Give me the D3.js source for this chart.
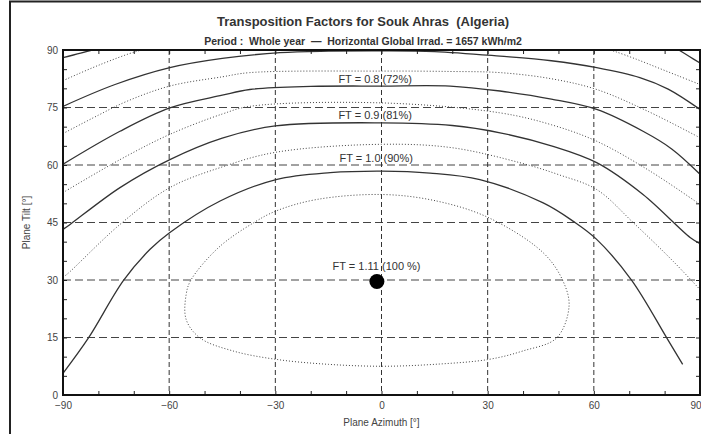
<!DOCTYPE html>
<html lang="en">
<head>
  <meta charset="UTF-8">
  <title>Transposition Factors for Souk Ahras</title>
  <script src="https://d3js.org/d3.v7.min.js"></script>
  <style>
    body { margin: 0; background: #fff; }
    svg { display: block; font-family: "Liberation Sans", Arial, sans-serif; }
    text { white-space: pre; }
  </style>
</head>
<body>
  <div id="chart"></div>

  <script>
    // iso-FT contour lines, as [azimuth, tilt] pairs
    const ft060Left = [[-90, 88.0], [-85, 89.2], [-80, 90.3]];
    const ft060Right = [[83.5, 90.3], [87, 88.3], [90, 86.6]];
    const ft065Left = [[-90, 82.0], [-80, 86.0], [-69, 89.7], [-65, 90.4]];
    const ft065Right = [[63, 90.4], [66, 89.6], [72, 87.6], [78, 85.4], [84, 83.2], [90, 81.0]];
    const ft070 = [[-90, 75.3], [-75.3, 81], [-59.8, 85.4], [-45, 87.8], [-28.7, 89.3], [-15, 89.7], [0, 89.8],
      [15, 89.6], [33.5, 88.4], [48, 87.2], [60.8, 85.4], [73, 82.8], [81, 79.8], [90, 74.5]];
    const ft075 = [[-90, 68.2], [-80, 73.0], [-72, 76.6], [-59.8, 80.6], [-45, 83.0], [-37.2, 84.1], [0, 84.5],
      [19.4, 84.4], [33.5, 84.1], [48, 82.5], [60.8, 79.7], [75.3, 74.0], [90, 67.1]];
    const ft080 = [[-90, 60.2], [-73.9, 68.8], [-59.8, 74.9], [-45, 78.2], [-37.2, 79.7], [-20, 80.5], [0, 80.6],
      [19.4, 80.6], [33.5, 79.3], [48, 77.2], [60.8, 74.5], [73.9, 68.8], [82, 64.2], [90, 57.6]];
    const ft085 = [[-90, 52.8], [-73.9, 61.4], [-59.8, 68.0], [-45, 73.3], [-37.2, 75.3], [0, 76.2], [33.5, 73.6],
      [48, 70.5], [60.8, 66.2], [75.9, 58.4], [90, 49.7]];
    const ft090 = [[-90, 43.2], [-88, 44.5], [-73.9, 54.1], [-59.8, 61.4], [-45, 67.0], [-30, 70.2], [0, 71.0],
      [20, 70.3], [33.5, 68.4], [48, 65.0], [60.8, 60.6], [73.9, 52.3], [87.2, 41.1], [90, 39.5]];
    const ft095 = [[-90, 30.8], [-89, 31.4], [-73.9, 44.5], [-59.8, 54.1], [-45, 59.5], [-30, 63.3], [0, 65.4],
      [20, 64.5], [39.1, 60.6], [50, 57.5], [60.8, 53.6], [71.1, 45.0], [82.4, 34.9], [90, 27.5]];
    const ft100 = [[-89.9, 5.8], [-82.8, 14.9], [-72.9, 29.9], [-65.4, 38.0], [-59.8, 42.4], [-45.6, 50.6],
      [-29.8, 56.2], [-14.5, 58.0], [0.1, 58.4], [13.7, 57.9], [27.8, 56.2], [45.7, 50.1], [54.2, 45.3],
      [60.8, 40.6], [70.7, 29.9], [80.6, 14.9], [85.1, 8.0]];
    const ft105 = [[0.3, 52.3], [15.6, 50.6], [30.4, 46.2], [45.7, 37.1], [51.2, 29.9], [53.0, 23.2], [49.5, 14.9],
      [40, 11.5], [30.4, 9.3], [15, 8.0], [0.3, 7.5], [-15, 8.0], [-29.8, 9.3], [-42, 11.5], [-51.3, 14.9],
      [-55.2, 19.7], [-55.2, 26.2], [-53.9, 29.9], [-46, 38.5], [-36.2, 44.9], [-29.8, 48.0], [-18.3, 51.0]];

    // optimum
    const optAz = -1.3;
    const optTilt = 29.6;

    // contour labels (anchor = text centre / baseline, in azimuth / tilt)
    const labelText = ["FT = 0.8 (72%)", "FT = 0.9 (81%)", "FT = 1.0 (90%)", "FT = 1.11 (100 %)"];
    const labelAz = [-1.8, -1.8, -1.5, -1.4];
    const labelTilt = [81.5, 72.0, 60.8, 32.5];

    const xTicks = [-90, -60, -30, 0, 30, 60, 90];
    const yTicks = [0, 15, 30, 45, 60, 75, 90];
    const xMinor = d3.range(-90, 91, 10);
    const yMinor = d3.range(0, 91, 5);

    const svg_width = 701;
    const svg_height = 434;
    const plot_left = 63, plot_right = 700, plot_top = 50, plot_bottom = 395;

    const svg = d3.select("#chart")
      .append("svg")
      .attr("width", svg_width)
      .attr("height", svg_height);

    const x = d3.scaleLinear().domain([-90, 90]).range([plot_left, plot_right]);
    const y = d3.scaleLinear().domain([0, 90]).range([plot_bottom, plot_top]);

    // outer frame (only top and left edge visible)
    svg.append("path")
      .attr("d", `M10,${svg_height} V1.5 H${svg_width}`)
      .attr("fill", "none")
      .attr("stroke", "#222")
      .attr("stroke-width", 2);

    // titles
    svg.append("text")
      .attr("x", 363)
      .attr("y", 26)
      .attr("text-anchor", "middle")
      .attr("font-size", 13)
      .attr("font-weight", "bold")
      .attr("fill", "#333")
      .text("Transposition Factors for Souk Ahras  (Algeria)");

    svg.append("text")
      .attr("x", 363)
      .attr("y", 45)
      .attr("text-anchor", "middle")
      .attr("font-size", 10.5)
      .attr("font-weight", "bold")
      .attr("fill", "#333")
      .text("Period :  Whole year  \u2014  Horizontal Global Irrad. = 1657 kWh/m2");

    svg.append("clipPath").attr("id", "plot-clip")
      .append("rect")
      .attr("x", plot_left).attr("y", plot_top)
      .attr("width", plot_right - plot_left).attr("height", plot_bottom - plot_top);

    // grid
    svg.append("g")
      .selectAll("line")
      .data(yTicks.slice(1, -1))
      .enter()
      .append("line")
      .attr("x1", plot_left).attr("x2", plot_right)
      .attr("y1", d => y(d)).attr("y2", d => y(d))
      .attr("stroke", "#444")
      .attr("stroke-dasharray", "8,4");

    svg.append("g")
      .selectAll("line")
      .data(xTicks.slice(1, -1))
      .enter()
      .append("line")
      .attr("x1", d => x(d)).attr("x2", d => x(d))
      .attr("y1", plot_top).attr("y2", plot_bottom)
      .attr("stroke", "#333")
      .attr("stroke-dasharray", "5,3");

    // contours
    const line = d3.line()
      .x(d => x(d[0]))
      .y(d => y(d[1]))
      .curve(d3.curveCatmullRom.alpha(0.5));

    const closedLine = d3.line()
      .x(d => x(d[0]))
      .y(d => y(d[1]))
      .curve(d3.curveCatmullRomClosed.alpha(0.5));

    const solid = [ft060Left, ft060Right, ft070, ft080, ft090, ft100];
    const dotted = [ft065Left, ft065Right, ft075, ft085, ft095];

    const plot = svg.append("g").attr("clip-path", "url(#plot-clip)");

    plot.selectAll("path.solid")
      .data(solid)
      .enter()
      .append("path")
      .attr("class", "solid")
      .attr("d", line)
      .attr("fill", "none")
      .attr("stroke", "#333")
      .attr("stroke-width", 1.3);

    plot.selectAll("path.dotted")
      .data(dotted)
      .enter()
      .append("path")
      .attr("class", "dotted")
      .attr("d", line)
      .attr("fill", "none")
      .attr("stroke", "#444")
      .attr("stroke-width", 1)
      .attr("stroke-dasharray", "1,2");

    plot.append("path")
      .datum(ft105)
      .attr("d", closedLine)
      .attr("fill", "none")
      .attr("stroke", "#444")
      .attr("stroke-width", 1)
      .attr("stroke-dasharray", "1,2");

    // labels
    svg.append("g")
      .selectAll("text")
      .data(labelText)
      .enter()
      .append("text")
      .attr("x", (d, i) => x(labelAz[i]))
      .attr("y", (d, i) => y(labelTilt[i]))
      .attr("text-anchor", "middle")
      .attr("font-size", 11)
      .attr("fill", "#333")
      .text(d => d);

    svg.append("circle")
      .attr("cx", x(optAz))
      .attr("cy", y(optTilt))
      .attr("r", 7.5)
      .attr("fill", "#000");

    // minor ticks, pointing inward on all four sides
    const tickAxis = (axis, tx, ty) => {
      const g = svg.append("g")
        .attr("transform", `translate(${tx},${ty})`)
        .call(axis);
      g.select(".domain").remove();
      g.selectAll("line").attr("stroke", "#222");
      return g;
    };
    tickAxis(d3.axisBottom(x).tickValues(xMinor).tickSize(-4).tickFormat(""), 0, plot_bottom);
    tickAxis(d3.axisTop(x).tickValues(xMinor).tickSize(-4).tickFormat(""), 0, plot_top);
    tickAxis(d3.axisLeft(y).tickValues(yMinor).tickSize(-4).tickFormat(""), plot_left, 0);
    tickAxis(d3.axisRight(y).tickValues(yMinor).tickSize(-4).tickFormat(""), plot_right, 0);

    // tick labels
    const xa = svg.append("g")
      .attr("transform", `translate(0,${plot_bottom})`)
      .call(d3.axisBottom(x).tickValues(xTicks).tickSize(0).tickPadding(7));
    xa.select(".domain").remove();
    xa.selectAll("text").attr("font-size", 10).attr("fill", "#444");
    // last label sits at the window edge: keep it inside
    xa.selectAll("text").filter(d => d === 90).attr("text-anchor", "end").attr("x", svg_width - plot_right);
    xa.attr("font-family", null);

    const ya = svg.append("g")
      .attr("transform", `translate(${plot_left},0)`)
      .call(d3.axisLeft(y).tickValues(yTicks).tickSize(0).tickPadding(5));
    ya.select(".domain").remove();
    ya.selectAll("text").attr("font-size", 10).attr("fill", "#444");
    ya.attr("font-family", null);

    // frame
    svg.append("rect")
      .attr("x", plot_left).attr("y", plot_top)
      .attr("width", plot_right - plot_left).attr("height", plot_bottom - plot_top)
      .attr("fill", "none")
      .attr("stroke", "#111")
      .attr("stroke-width", 2);

    // axis titles
    svg.append("text")
      .attr("x", (plot_left + plot_right) / 2)
      .attr("y", 426)
      .attr("text-anchor", "middle")
      .attr("font-size", 10)
      .attr("fill", "#444")
      .text("Plane Azimuth [\u00b0]");

    svg.append("text")
      .attr("transform", `translate(30,${(plot_top + plot_bottom) / 2}) rotate(-90)`)
      .attr("text-anchor", "middle")
      .attr("font-size", 10)
      .attr("fill", "#444")
      .text("Plane Tilt [\u00b0]");
  </script>
</body>
</html>
